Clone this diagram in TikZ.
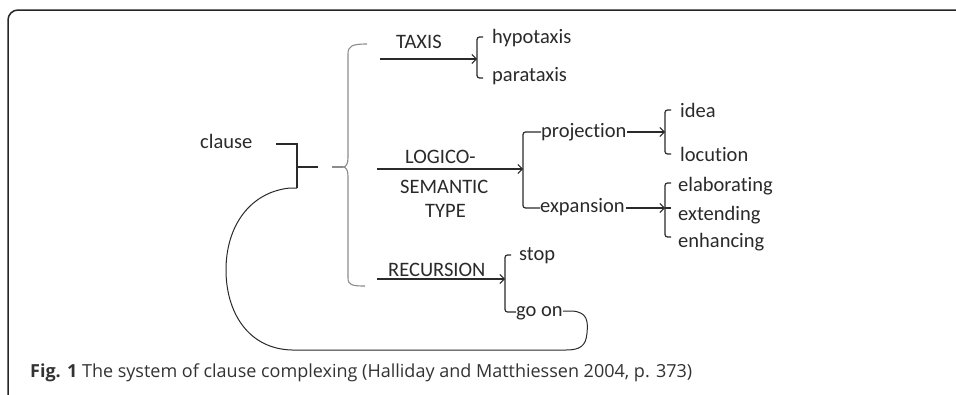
\documentclass[tikz,border=0pt]{standalone}
\usepackage{fontspec}
\setmainfont{Carlito}[Ligatures=NoCommon]
\newfontfamily\capfont{Open Sans}
\usetikzlibrary{arrows.meta}
\definecolor{ink}{HTML}{2A2A2A}
\definecolor{braceg}{HTML}{8C8C8C}
\definecolor{capink}{HTML}{333333}
\tikzset{
  lbl/.style={inner sep=0pt, anchor=base west, text=ink, font=\fontsize{20.5}{24}\selectfont},
  ln/.style={draw=ink, line width=1.2pt},
  arr/.style={ln, -{Straight Barb[length=4.5pt,width=9pt,line width=1pt]}},
  brk/.style={ln, rounded corners=2.5pt},
  bracegray/.style={draw=braceg, line width=1.1pt},
}
\begin{document}
\begin{tikzpicture}[x=1pt,y=-1pt]
\useasboundingbox (0,0) rectangle (956,394);
\fill[white] (0,0) rectangle (956,394);
% frame
\draw[line width=1.5pt, draw=black!85] (8,396) -- (8,20) arc[start angle=180,end angle=270,radius=10] -- (957,10);

% labels
\node[lbl] (clause) at (200,148) {clause};
\node[lbl] (taxis) at (396,48) {TAXIS};
\node[lbl] (hypo) at (492,43) {hypotaxis};
\node[lbl] (para) at (492,81) {parataxis};
\node[lbl] (logico) at (405,163) {LOGICO-};
\node[lbl] (semantic) at (400,193) {SEMANTIC};
\node[lbl] (type) at (425,217) {TYPE};
\node[lbl] (proj) at (541,137) {projection};
\node[lbl] (expa) at (540,212) {expansion};
\node[lbl] (idea) at (680,117) {idea};
\node[lbl] (locu) at (680,161) {locution};
\node[lbl] (elab) at (678,191) {elaborating};
\node[lbl] (exte) at (678,220) {extending};
\node[lbl] (enha) at (678,247) {enhancing};
\node[lbl] (recu) at (388,276) {RECURSION};
\node[lbl] (stop) at (519,260) {stop};
\node[lbl] (goon) at (516,316) {go on};

% clause entry
\coordinate (c1) at (276,144);
\coordinate (c2) at (297,144);
\coordinate (c3) at (297,188);
\coordinate (cm) at (297,167);
\coordinate (ct) at (318,167);
\draw[ln] (c1) -- (c2) -- (c3);
\draw[ln] (cm) -- (ct);

% big brace
\coordinate (b0) at (332,167);
\coordinate (bc) at (343,167);
\draw[bracegray] (b0) -- (bc);
\draw[bracegray] (367,44) .. controls (352,44) and (348,46) .. (348,54) -- (348,158)
  .. controls (348,164) and (346,167) .. (bc)
  .. controls (346,167) and (348,170) .. (348,176) -- (348,278)
  .. controls (348,285) and (352,286) .. (365,286);

% TAXIS system
\coordinate (ta0) at (380,59);
\coordinate (ta1) at (477,59);
\draw[arr] (ta0) -- (ta1);
\draw[brk] (483,37) -- (477,37) -- (477,78) -- (483,78);

% LOGICO-SEMANTIC system
\coordinate (ls0) at (377,169);
\coordinate (ls1) at (523,169);
\draw[arr] (ls0) -- (ls1);
\draw[brk] (proj.west |- 0,132) -- (523,132) -- (523,208) -- (expa.west |- 0,208);

% projection
\coordinate (pr0) at (627,132);
\coordinate (pr1) at (665,132);
\draw[arr] (pr0) -- (pr1);
\draw[brk] (671,110) -- (665,110) -- (665,154) -- (671,154);

% expansion
\coordinate (ex0) at (626,208);
\coordinate (ex1) at (665,208);
\draw[arr] (ex0) -- (ex1);
\draw[brk] (671,183) -- (665,183) -- (665,237) -- (671,237);
\draw[ln] (665,208) -- (671,208);

% RECURSION
\coordinate (re0) at (377,279);
\coordinate (re1) at (505,279);
\draw[arr] (re0) -- (re1);
\draw[brk] (511,255) -- (505,255) -- (505,312) -- (goon.west |- 0,312);

% recursion loop
\draw[ln, line width=1pt] (goon.east |- 0,311) -- (572,311)
  .. controls (588,312) and (588,322) .. (587,333)
  .. controls (586,346) and (580,350) .. (566,350)
  -- (292,350)
  .. controls (248,349) and (226,312) .. (226,270)
  .. controls (226,226) and (250,192) .. (290,188) -- (c3);

% caption
\node[inner sep=0pt, anchor=base west, text=capink, font=\capfont\fontsize{18}{21}\selectfont] (cap) at (30,377)
  {\textbf{Fig. 1} The system of clause complexing (Halliday and Matthiessen 2004, p. 373)};
\end{tikzpicture}
\end{document}
